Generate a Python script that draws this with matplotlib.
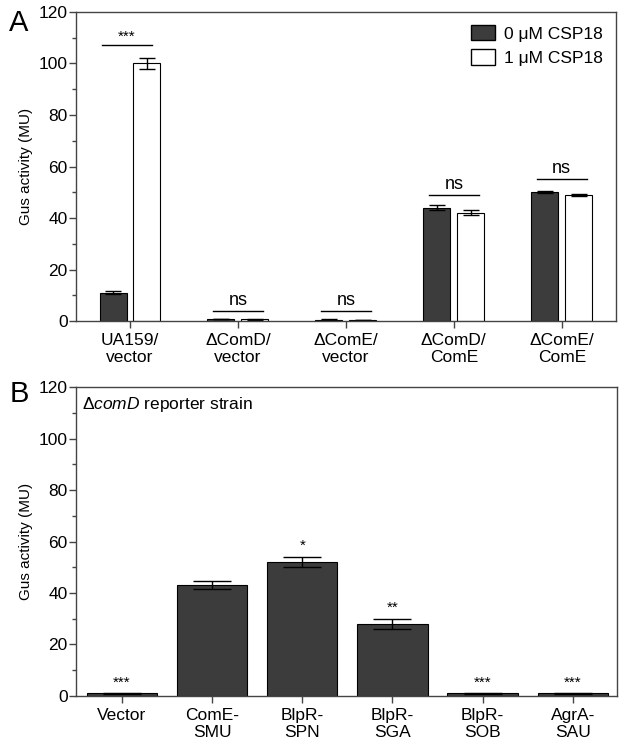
import matplotlib
matplotlib.use("Agg")
import matplotlib.pyplot as plt
import matplotlib.patches as mpatches
from matplotlib.ticker import MultipleLocator
import numpy as np

# ── Data ─────────────────────────────────────────────────────────────────────
A_LABELS = ["UA159/\nvector", "\u0394ComD/\nvector", "\u0394ComE/\nvector",
            "\u0394ComD/\nComE", "\u0394ComE/\nComE"]
A_CSP0 = [11, 0.8, 0.6, 44, 50]
A_CSP0_ERR = [0.5, 0.1, 0.1, 1.0, 0.3]
A_CSP1 = [100, 0.7, 0.5, 42, 49]
A_CSP1_ERR = [2.0, 0.1, 0.1, 1.0, 0.3]
A_SIG = ["***", "ns", "ns", "ns", "ns"]
A_SIG_Y = [107, 4, 4, 49, 55]

B_LABELS = ["Vector", "ComE-\nSMU", "BlpR-\nSPN", "BlpR-\nSGA", "BlpR-\nSOB", "AgrA-\nSAU"]
B_VALS = [1, 43, 52, 28, 1, 1]
B_ERR = [0.1, 1.5, 2.0, 2.0, 0.1, 0.1]
B_SIG = ["***", "", "*", "**", "***", "***"]

# ── Style ─────────────────────────────────────────────────────────────────────
DARK = "#3c3c3c"
SPINE = "#444444"
FS = 12.5
plt.rcParams.update({
    "font.family": ["Liberation Sans", "DejaVu Sans"],
    "font.size": FS,
    "mathtext.fontset": "custom",
    "mathtext.rm": "Liberation Sans",
    "mathtext.it": "Liberation Sans:italic",
})

fig = plt.figure(figsize=(6.24, 7.45), dpi=100)
axA = fig.add_axes([0.1218, 0.569, 0.865, 0.415])
axB = fig.add_axes([0.1218, 0.0658, 0.867, 0.4147])


def style_axis(ax, labels):
    ax.set_ylim(0, 120)
    ax.yaxis.set_major_locator(MultipleLocator(20))
    ax.yaxis.set_minor_locator(MultipleLocator(10))
    ax.set_xticks(np.arange(len(labels)))
    ax.set_xticklabels(labels, fontsize=FS, linespacing=1.15)
    ax.tick_params(axis="both", direction="out", length=5, width=1, color=SPINE, labelsize=FS)
    ax.tick_params(axis="y", which="minor", length=3, width=1, color=SPINE)
    ax.tick_params(axis="y", pad=1)
    for s in ax.spines.values():
        s.set_color(SPINE)
        s.set_linewidth(1.0)
    ax.set_ylabel("Gus activity (MU)", fontsize=11, labelpad=4)


# ── Panel A ───────────────────────────────────────────────────────────────────
x = np.arange(len(A_LABELS))
off, w = 0.157, 0.25
ekw = {"ecolor": "black", "elinewidth": 1, "capthick": 1}
axA.bar(x - off, A_CSP0, w, yerr=A_CSP0_ERR, color=DARK, edgecolor="black",
        linewidth=0.8, capsize=6, error_kw=ekw)
axA.bar(x + off, A_CSP1, w, yerr=A_CSP1_ERR, color="white", edgecolor="black",
        linewidth=0.8, capsize=6, error_kw=ekw)
for i, (s, yy) in enumerate(zip(A_SIG, A_SIG_Y)):
    x0, x1 = (i - 0.26, i + 0.2) if i == 0 else (i - 0.23, i + 0.23)
    axA.plot([x0, x1], [yy, yy], color="black", lw=1)
    axA.text((x0 + x1) / 2, yy + 0.8, s, ha="center", va="bottom",
             fontsize=11 if s.startswith("*") else 13)
axA.set_xlim(-0.5, 4.5)
style_axis(axA, A_LABELS)
handles = [mpatches.Patch(facecolor=DARK, edgecolor="black", label="0 \u03bcM CSP18"),
           mpatches.Patch(facecolor="white", edgecolor="black", label="1 \u03bcM CSP18")]
axA.legend(handles=handles, loc="upper right", frameon=False, fontsize=12.5,
           handlelength=1.4, handleheight=1.0, handletextpad=0.5,
           borderaxespad=0.35, labelspacing=0.45)

# ── Panel B ───────────────────────────────────────────────────────────────────
xb = np.arange(len(B_LABELS))
axB.bar(xb, B_VALS, 0.78, yerr=B_ERR, color=DARK, edgecolor="black",
        linewidth=0.8, capsize=14, error_kw=ekw)
for i, s in enumerate(B_SIG):
    if s:
        axB.text(i, B_VALS[i] + B_ERR[i] + 1.5, s, ha="center", va="bottom", fontsize=11)
axB.set_xlim(-0.51, 5.49)
style_axis(axB, B_LABELS)
axB.text(0.012, 0.975, "$\\mathrm{\u0394}\\mathit{comD}$ reporter strain",
         transform=axB.transAxes, ha="left", va="top", fontsize=FS)

fig.text(0.015, 0.988, "A", fontsize=21, ha="left", va="top")
fig.text(0.015, 0.49, "B", fontsize=21, ha="left", va="top")

fig.savefig("out.png", dpi=100)
